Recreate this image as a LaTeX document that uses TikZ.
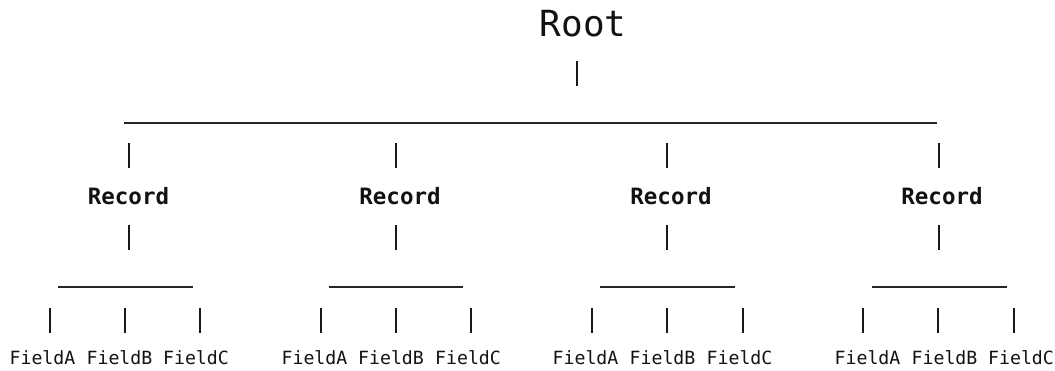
\documentclass[tikz,border=0pt]{standalone}
\usepackage{fontspec}
\setmonofont{DejaVu Sans Mono}
\begin{document}
\begin{tikzpicture}[x=1pt,y=-1pt,
  lbl/.style={inner sep=0pt,outer sep=0pt,anchor=base,text=black!93},
  roottxt/.style={lbl,font=\ttfamily\fontsize{36}{40}\selectfont},
  rectxt/.style={lbl,font=\ttfamily\bfseries\fontsize{22.5}{26}\selectfont},
  fldtxt/.style={lbl,font=\ttfamily\fontsize{18.2}{21}\selectfont},
  vbar/.style={draw=black!90,line width=1.7pt},
  hbar/.style={draw=black!85,line width=1.3pt}]
\useasboundingbox (0,0) rectangle (1055,370);
% root
\node[roottxt] (root) at (583,36) {Root};
\coordinate (rb1) at (577,61); \coordinate (rb2) at (577,86);
\draw[vbar] (rb1) -- (rb2);
% long underscore line
\coordinate (L1) at (124,123); \coordinate (L2) at (937,123);
\draw[hbar] (L1) -- (L2);
% records
\foreach \i/\bx/\rx in {1/129/128.5,2/396/400,3/667/671,4/939/942}{
  \node[rectxt] (rec\i) at (\rx,204) {Record};
  \coordinate (rt\i a) at (\bx,143); \coordinate (rt\i b) at (\bx,168);
  \coordinate (rd\i a) at (\bx,225); \coordinate (rd\i b) at (\bx,250);
  \draw[vbar] (rt\i a) -- (rt\i b);
  \draw[vbar] (rd\i a) -- (rd\i b);
}
% short lines
\foreach \i/\xa/\xb in {1/58/193,2/329/463,3/600/735,4/872/1007}{
  \coordinate (s\i a) at (\xa,287); \coordinate (s\i b) at (\xb,287);
  \draw[hbar] (s\i a) -- (s\i b);
}
% field bars and fields
\foreach \i/\ba/\bb/\bc/\fa/\fb/\fc in {
  1/50/125/200/42.5/119.5/196,
  2/321/396/471/314.5/391/468,
  3/592/667/743/585.5/662.5/739.5,
  4/863/938/1014/867.5/944.5/1021}{
  \foreach \j/\bx in {a/\ba,b/\bb,c/\bc}{
    \coordinate (f\i\j1) at (\bx,308); \coordinate (f\i\j2) at (\bx,333);
    \draw[vbar] (f\i\j1) -- (f\i\j2);
  }
  \node[fldtxt] (fa\i) at (\fa,364) {FieldA};
  \node[fldtxt] (fb\i) at (\fb,364) {FieldB};
  \node[fldtxt] (fc\i) at (\fc,364) {FieldC};
}
\end{tikzpicture}
\end{document}
